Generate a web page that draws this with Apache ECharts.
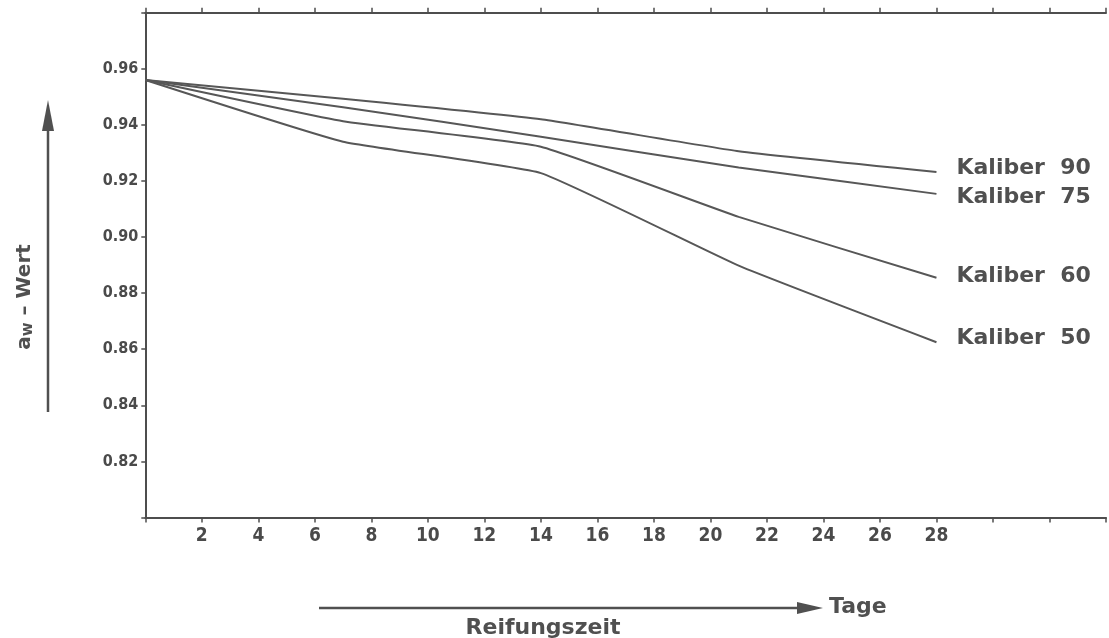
<!DOCTYPE html>
<html>
<head>
<meta charset="utf-8">
<script src="https://cdn.jsdelivr.net/npm/echarts@6/dist/echarts.min.js"></script>
<style>
html,body{margin:0;padding:0;background:#fff;}
#c{width:1109px;height:638px;}
</style>
</head>
<body>
<div id="c"></div>
<script>
// ---- data ----
const days = [0, 7, 14, 21, 28];
const seriesNames = ['Kaliber  90', 'Kaliber  75', 'Kaliber  60', 'Kaliber  50'];
const k90 = [0.956, 0.9493, 0.9420, 0.9306, 0.9232];
const k75 = [0.956, 0.9463, 0.9358, 0.9248, 0.9154];
const k60 = [0.956, 0.9413, 0.9322, 0.9072, 0.8855];
const k50 = [0.956, 0.9340, 0.9228, 0.8898, 0.8625];
const xLabelMax = 28;
const yLabelMin = 0.82, yLabelMax = 0.96;

const INK = '#4e4e4e';
const chart = echarts.init(document.getElementById('c'));

function pairs(vals){ return days.map((d,i)=>[d, vals[i]]); }
const allVals = [k90, k75, k60, k50];
const labelOffsets = [[12,-4],[12,3],[12,-1],[12,-4]];

const series = allVals.map((vals, i) => ({
  name: seriesNames[i],
  type: 'line',
  data: pairs(vals),
  smooth: 0.12,
  symbol: 'none',
  lineStyle: {color: '#575757', width: 2},
  endLabel: {
    show: true,
    formatter: '{a}',
    offset: labelOffsets[i],
    color: '#505050',
    fontFamily: 'DejaVu Sans',
    fontWeight: 'bold',
    fontSize: 22
  },
  silent: true,
  animation: false
}));

const option = {
  backgroundColor: '#ffffff',
  animation: false,
  grid: {left: 145.3, top: 12.7, width: 974.4, height: 504.8},
  xAxis: [
    {
      type: 'value', position: 'bottom', min: 0, max: 34, interval: 2,
      axisLine: {show: true, lineStyle: {color: INK, width: 2}},
      axisTick: {show: true, length: 5, inside: false, lineStyle: {color: INK, width: 1.5}},
      axisLabel: {
        margin: 9, color: '#4a4a4a', fontSize: 19, fontWeight: 'bold',
        fontFamily: '"DejaVu Sans Condensed", sans-serif',
        formatter: v => (v > 0 && v <= xLabelMax) ? String(v) : ''
      },
      splitLine: {show: false}
    },
    {
      type: 'value', position: 'top', min: 0, max: 34, interval: 2,
      axisLine: {show: true, lineStyle: {color: INK, width: 2}},
      axisTick: {show: true, length: 5, inside: false, lineStyle: {color: INK, width: 1.5}},
      axisLabel: {show: false},
      splitLine: {show: false}
    }
  ],
  yAxis: [
    {
      type: 'value', min: 0.80, max: 0.98, interval: 0.02,
      axisLine: {show: true, lineStyle: {color: INK, width: 2}},
      axisTick: {show: true, length: 4, inside: false, lineStyle: {color: INK, width: 1.5}},
      axisLabel: {
        margin: 7, color: '#4a4a4a', fontSize: 16, fontWeight: 'bold',
        fontFamily: '"DejaVu Sans Condensed", sans-serif',
        formatter: v => (v >= yLabelMin - 1e-6 && v <= yLabelMax + 1e-6) ? v.toFixed(2) : ''
      },
      splitLine: {show: false}
    }
  ],
  series: series,
  graphic: [
    {type: 'line', shape: {x1: 48, y1: 412, x2: 48, y2: 128}, style: {stroke: '#505050', lineWidth: 2.5}},
    {type: 'polygon', shape: {points: [[48, 100], [42, 131], [54, 131]]}, style: {fill: '#505050'}},
    {
      type: 'text', x: 25, y: 297, rotation: Math.PI / 2,
      style: {
        text: '{a|a}{s|w}{b| – Wert}',
        align: 'center', verticalAlign: 'middle',
        rich: {
          a: {fontFamily: 'DejaVu Sans', fontWeight: 'bold', fontSize: 20, fill: '#505050'},
          s: {fontFamily: 'DejaVu Sans', fontWeight: 'bold', fontSize: 15, fill: '#505050', padding: [6, 0, 0, 0]},
          b: {fontFamily: 'DejaVu Sans', fontWeight: 'bold', fontSize: 20, fill: '#505050'}
        }
      }
    },
    {type: 'line', shape: {x1: 319, y1: 608, x2: 800, y2: 608}, style: {stroke: '#505050', lineWidth: 2.5}},
    {type: 'polygon', shape: {points: [[823, 608], [797, 602], [797, 614]]}, style: {fill: '#505050'}},
    {
      type: 'text', x: 829, y: 607,
      style: {text: 'Tage', align: 'left', verticalAlign: 'middle',
        font: 'bold 22px "DejaVu Sans"', fill: '#505050'}
    },
    {
      type: 'text', x: 543, y: 628,
      style: {text: 'Reifungszeit', align: 'center', verticalAlign: 'middle',
        font: 'bold 22px "DejaVu Sans"', fill: '#505050'}
    }
  ]
};
chart.setOption(option);
</script>
</body>
</html>
